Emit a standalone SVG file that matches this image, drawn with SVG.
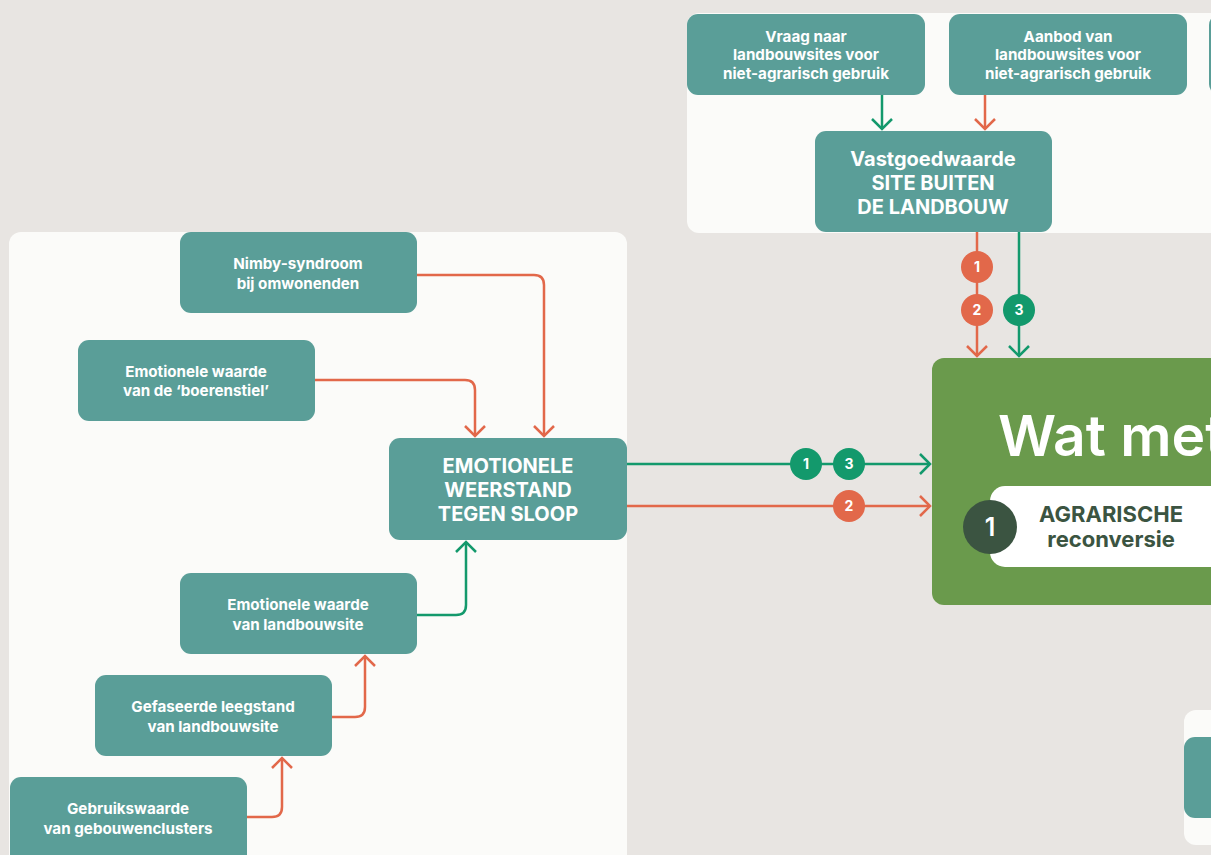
<svg xmlns="http://www.w3.org/2000/svg" width="1211" height="855" viewBox="0 0 1211 855">
<style>
.panel{fill:#fbfbf9}
.node{fill:#5a9e98}
.t{font-family:Inter,"Liberation Sans",sans-serif;font-weight:700;fill:#ffffff;text-anchor:middle}
.s{font-size:15.2px}
.m{font-size:20px}
.c{fill:none;stroke-width:2.5}
.o{stroke:#e2684a}
.g{stroke:#13996c}
.bo{fill:#e2684a}
.bg{fill:#13996c}
.bt{font-family:Inter,"Liberation Sans",sans-serif;font-weight:700;font-size:14px;fill:#ffffff;text-anchor:middle}
.dk{font-family:Inter,"Liberation Sans",sans-serif;font-weight:700;font-size:22px;fill:#3b5441;text-anchor:middle}
</style>
<defs>
<marker id="ao" markerUnits="userSpaceOnUse" viewBox="-12 -12 14 24" markerWidth="14" markerHeight="24" refX="0" refY="0" orient="auto"><path d="M-10,-10 L0,0 L-10,10" fill="none" stroke="#e2684a" stroke-width="2.5"/></marker>
<marker id="ag" markerUnits="userSpaceOnUse" viewBox="-12 -12 14 24" markerWidth="14" markerHeight="24" refX="0" refY="0" orient="auto"><path d="M-10,-10 L0,0 L-10,10" fill="none" stroke="#13996c" stroke-width="2.5"/></marker>
</defs>
<rect width="1211" height="855" fill="#e8e5e2"/>
<rect class="panel" x="687" y="13" width="540" height="220" rx="12"/>
<rect class="panel" x="9" y="232" width="618" height="640" rx="12"/>
<rect class="panel" x="1184" y="710" width="40" height="135" rx="12"/>

<g id="connectors">
<path class="c g" d="M882,95 V129" marker-end="url(#ag)"/>
<path class="c o" d="M985,95 V129" marker-end="url(#ao)"/>
<path class="c o" d="M977,232 V356" marker-end="url(#ao)"/>
<path class="c g" d="M1019,232 V356" marker-end="url(#ag)"/>
<path class="c o" d="M417,275 H534 Q544,275 544,285 V436" marker-end="url(#ao)"/>
<path class="c o" d="M315,380 H465 Q475,380 475,390 V436" marker-end="url(#ao)"/>
<path class="c g" d="M417,615 H456 Q466,615 466,605 V542" marker-end="url(#ag)"/>
<path class="c o" d="M332,717 H355 Q365,717 365,707 V656" marker-end="url(#ao)"/>
<path class="c o" d="M247,817 H272 Q282,817 282,807 V758" marker-end="url(#ao)"/>
<path class="c g" d="M627,464 H930" marker-end="url(#ag)"/>
<path class="c o" d="M627,506 H930" marker-end="url(#ao)"/>
<circle class="bo" cx="977" cy="267" r="16"/><text class="bt" x="977" y="272">1</text>
<circle class="bo" cx="977" cy="310" r="16"/><text class="bt" x="977" y="315">2</text>
<circle class="bg" cx="1019" cy="310" r="16"/><text class="bt" x="1019" y="315">3</text>
<circle class="bg" cx="806" cy="464" r="16"/><text class="bt" x="806" y="469">1</text>
<circle class="bg" cx="849" cy="464" r="16"/><text class="bt" x="849" y="469">3</text>
<circle class="bo" cx="849" cy="506" r="16"/><text class="bt" x="849" y="511">2</text>
</g>

<g id="vraag">
<rect class="node" x="687" y="14" width="238" height="81" rx="11"/>
<text class="t s" x="806" y="42">Vraag naar</text>
<text class="t s" x="806" y="60">landbouwsites voor</text>
<text class="t s" x="806" y="79">niet-agrarisch gebruik</text>
</g>
<g id="aanbod">
<rect class="node" x="949" y="14" width="238" height="81" rx="11"/>
<text class="t s" x="1068" y="42">Aanbod van</text>
<text class="t s" x="1068" y="60">landbouwsites voor</text>
<text class="t s" x="1068" y="79">niet-agrarisch gebruik</text>
</g>
<g id="partial-top">
<rect class="node" x="1209" y="14" width="40" height="81" rx="11"/>
</g>
<g id="vastgoed">
<rect class="node" x="815" y="131" width="237" height="101" rx="11"/>
<text class="t m" x="933" y="166">Vastgoedwaarde</text>
<text class="t m" x="933" y="190">SITE BUITEN</text>
<text class="t m" x="933" y="214">DE LANDBOUW</text>
</g>

<g id="watmet">
<rect x="932" y="358" width="300" height="247" rx="12" fill="#6a9a4c"/>
<text x="998" y="456" font-family="Inter,'Liberation Sans',sans-serif" font-weight="600" font-size="57" fill="#ffffff">Wat met</text>
<rect x="990" y="486" width="250" height="81" rx="15" fill="#ffffff"/>
<circle cx="990" cy="527" r="27" fill="#3b5441"/>
<text x="990" y="536" font-family="Inter,'Liberation Sans',sans-serif" font-weight="600" font-size="25" fill="#ffffff" text-anchor="middle">1</text>
<text class="dk" x="1111" y="522">AGRARISCHE</text>
<text class="dk" x="1111" y="547">reconversie</text>
</g>

<g id="partial-bottom">
<rect class="node" x="1184" y="737" width="50" height="81" rx="11"/>
</g>

<g id="nimby">
<rect class="node" x="180" y="232" width="237" height="81" rx="11"/>
<text class="t s" x="298" y="269">Nimby-syndroom</text>
<text class="t s" x="298" y="289">bij omwonenden</text>
</g>
<g id="boerenstiel">
<rect class="node" x="78" y="340" width="237" height="81" rx="11"/>
<text class="t s" x="196" y="377">Emotionele waarde</text>
<text class="t s" x="196" y="396">van de ‘boerenstiel’</text>
</g>
<g id="weerstand">
<rect class="node" x="389" y="438" width="238" height="102" rx="11"/>
<text class="t m" x="508" y="473">EMOTIONELE</text>
<text class="t m" x="508" y="497">WEERSTAND</text>
<text class="t m" x="508" y="521">TEGEN SLOOP</text>
</g>
<g id="emo-site">
<rect class="node" x="180" y="573" width="237" height="81" rx="11"/>
<text class="t s" x="298" y="610">Emotionele waarde</text>
<text class="t s" x="298" y="630">van landbouwsite</text>
</g>
<g id="leegstand">
<rect class="node" x="95" y="675" width="237" height="81" rx="11"/>
<text class="t s" x="213" y="712">Gefaseerde leegstand</text>
<text class="t s" x="213" y="732">van landbouwsite</text>
</g>
<g id="gebruik">
<rect class="node" x="10" y="777" width="237" height="90" rx="11"/>
<text class="t s" x="128" y="814">Gebruikswaarde</text>
<text class="t s" x="128" y="834">van gebouwenclusters</text>
</g>
</svg>
